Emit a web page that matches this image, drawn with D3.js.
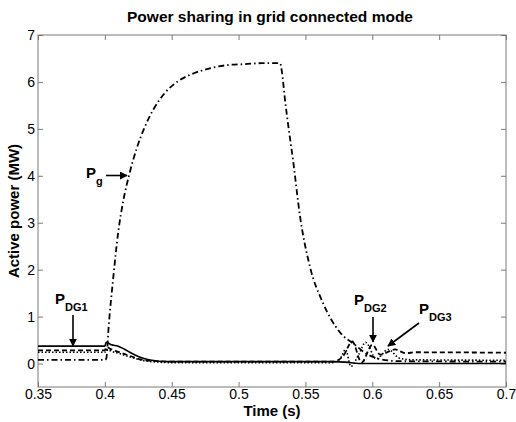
<!DOCTYPE html>
<html>
<head>
<meta charset="utf-8">
<script src="https://cdn.jsdelivr.net/npm/d3@7"></script>
<style>
  body { margin: 0; background: #fff; }
  text { font-family: "Liberation Sans", Arial, sans-serif; }
</style>
</head>
<body>
<svg id="chart" width="516" height="422"></svg>
<script>
// Time ticks and power ticks
const xTicks = [0.35, 0.4, 0.45, 0.5, 0.55, 0.6, 0.65, 0.7];
const yTicks = [0, 1, 2, 3, 4, 5, 6, 7];

// Grid power Pg (MW)
const pgTime  = [0.35, 0.40, 0.401, 0.403, 0.406, 0.41, 0.414, 0.418, 0.424, 0.43, 0.436, 0.445, 0.455, 0.467, 0.48, 0.492, 0.505, 0.5175, 0.531, 0.5325, 0.5347, 0.5375, 0.5407, 0.546, 0.5534, 0.563, 0.5759, 0.587, 0.595, 0.605, 0.62, 0.7];
const pgValue = [0.08, 0.08, 0.10, 0.85, 1.75, 2.80, 3.50, 4.00, 4.60, 5.05, 5.40, 5.77, 6.02, 6.19, 6.30, 6.36, 6.38, 6.40, 6.40, 6.20, 5.62, 5.00, 4.34, 3.13, 2.06, 1.30, 0.66, 0.40, 0.22, 0.10, 0.05, 0.04];

// DG1 output (solid)
const dg1Time  = [0.35, 0.40, 0.401, 0.405, 0.41, 0.415, 0.42, 0.425, 0.43, 0.435, 0.44, 0.45, 0.57, 0.58, 0.59, 0.60, 0.7];
const dg1Value = [0.37, 0.37, 0.45, 0.40, 0.37, 0.30, 0.22, 0.15, 0.10, 0.07, 0.05, 0.04, 0.04, 0.03, 0.00, 0.00, 0.00];

// DG2 output (dashed)
const dg2Time  = [0.35, 0.40, 0.401, 0.405, 0.41, 0.415, 0.42, 0.425, 0.43, 0.44, 0.45, 0.57, 0.578, 0.585, 0.592, 0.60, 0.606, 0.617, 0.625, 0.632, 0.7];
const dg2Value = [0.28, 0.28, 0.35, 0.30, 0.25, 0.20, 0.15, 0.10, 0.07, 0.05, 0.04, 0.04, 0.15, 0.47, 0.02, 0.40, 0.19, 0.30, 0.22, 0.24, 0.23];

// DG3 output (dotted)
const dg3Time  = [0.35, 0.40, 0.401, 0.405, 0.41, 0.42, 0.43, 0.44, 0.45, 0.57, 0.576, 0.58, 0.584, 0.59, 0.595, 0.603, 0.612, 0.62, 0.63, 0.7];
const dg3Value = [0.24, 0.24, 0.30, 0.26, 0.22, 0.13, 0.06, 0.03, 0.02, 0.02, 0.10, 0.30, -0.06, 0.20, 0.45, 0.10, 0.30, 0.12, 0.08, 0.07];

const svg = d3.select("#chart");
const margin = {left: 38, right: 10, top: 35, bottom: 35};
const W = 516, H = 422;
const x = d3.scaleLinear().domain([0.35, 0.7]).range([margin.left, W - margin.right]);
const y = d3.scaleLinear().domain([-0.5, 7]).range([H - margin.bottom, margin.top]);

const axisColor = "#7a7a7a";
const tickLen = 5;

// Frame
svg.append("rect")
  .attr("x", x(0.35)).attr("y", y(7))
  .attr("width", x(0.7) - x(0.35)).attr("height", y(-0.5) - y(7))
  .attr("fill", "none").attr("stroke", axisColor).attr("stroke-width", 1);

// Axes with inward ticks
const xAxisB = d3.axisBottom(x).tickValues(xTicks).tickSizeInner(-tickLen).tickSizeOuter(0).tickPadding(2)
  .tickFormat(d => d3.format("")(+d.toFixed(2)));
const gx = svg.append("g").attr("transform", `translate(0,${y(-0.5)})`).call(xAxisB);
const xAxisT = d3.axisTop(x).tickValues(xTicks).tickSizeInner(-tickLen).tickSizeOuter(0).tickFormat("");
const gxt = svg.append("g").attr("transform", `translate(0,${y(7)})`).call(xAxisT);
const yAxisL = d3.axisLeft(y).tickValues(yTicks).tickSizeInner(-tickLen).tickSizeOuter(0).tickPadding(3);
const gy = svg.append("g").attr("transform", `translate(${x(0.35)},0)`).call(yAxisL);
const yAxisR = d3.axisRight(y).tickValues(yTicks).tickSizeInner(-tickLen).tickSizeOuter(0).tickFormat("");
const gyr = svg.append("g").attr("transform", `translate(${x(0.7)},0)`).call(yAxisR);

[gx, gxt, gy, gyr].forEach(g => {
  g.select(".domain").remove();
  g.selectAll(".tick line").attr("stroke", axisColor);
  g.selectAll(".tick text").attr("fill", "#000").style("font-size", "14px")
    .style("font-family", "'Liberation Sans', Arial, sans-serif");
});

// Clip curves to the plot area
svg.append("clipPath").attr("id", "plotClip").append("rect")
  .attr("x", x(0.35)).attr("y", y(7)).attr("width", x(0.7) - x(0.35)).attr("height", y(-0.5) - y(7));

const line = d3.line().x(d => x(d[0])).y(d => y(d[1])).curve(d3.curveMonotoneX);
const series = [
  {t: dg3Time, v: dg3Value, dash: "1.5,2", w: 1.6},
  {t: dg2Time, v: dg2Value, dash: "5,3", w: 1.8},
  {t: dg1Time, v: dg1Value, dash: null, w: 1.6},
  {t: pgTime,  v: pgValue,  dash: "6,3,1.5,3", w: 1.8}
];
const plot = svg.append("g").attr("clip-path", "url(#plotClip)");
series.forEach(s => {
  plot.append("path")
    .datum(s.t.map((t, i) => [t, s.v[i]]))
    .attr("d", line)
    .attr("fill", "none")
    .attr("stroke", "#000")
    .attr("stroke-width", s.w)
    .attr("stroke-dasharray", s.dash);
});

// Titles
svg.append("text").attr("x", 270).attr("y", 22).attr("text-anchor", "middle")
  .style("font-size", "15.5px").style("font-weight", "bold").text("Power sharing in grid connected mode");
svg.append("text").attr("x", (x(0.35) + x(0.7)) / 2).attr("y", 416).attr("text-anchor", "middle")
  .style("font-size", "15px").style("font-weight", "bold").text("Time (s)");
svg.append("text").attr("transform", `translate(19,${(y(7) + y(-0.5)) / 2}) rotate(-90)`)
  .attr("text-anchor", "middle").style("font-size", "15px").style("font-weight", "bold").text("Active power (MW)");

// Arrowhead
svg.append("defs").append("marker").attr("id", "arr")
  .attr("viewBox", "0 0 10 10").attr("refX", 9).attr("refY", 5)
  .attr("markerWidth", 5).attr("markerHeight", 5).attr("orient", "auto")
  .append("path").attr("d", "M0,0 L10,5 L0,10 z").attr("fill", "#000");

function label(px, py, main, sub) {
  const t = svg.append("text").attr("x", px).attr("y", py).style("font-weight", "bold");
  t.append("tspan").style("font-size", "15px").text(main);
  t.append("tspan").attr("dy", 7).style("font-size", "11px").text(sub);
}
function arrow(x1, y1, x2, y2) {
  svg.append("line").attr("x1", x1).attr("y1", y1).attr("x2", x2).attr("y2", y2)
    .attr("stroke", "#000").attr("stroke-width", 1.6).attr("marker-end", "url(#arr)");
}

label(86, 178, "P", "g");
arrow(106, 175.5, 127, 175.5);
label(55, 304, "P", "DG1");
arrow(73, 315, 73, 346);
label(354, 305, "P", "DG2");
arrow(373, 317, 373, 342);
label(419, 314, "P", "DG3");
arrow(419, 323, 388, 346);
</script>
</body>
</html>
